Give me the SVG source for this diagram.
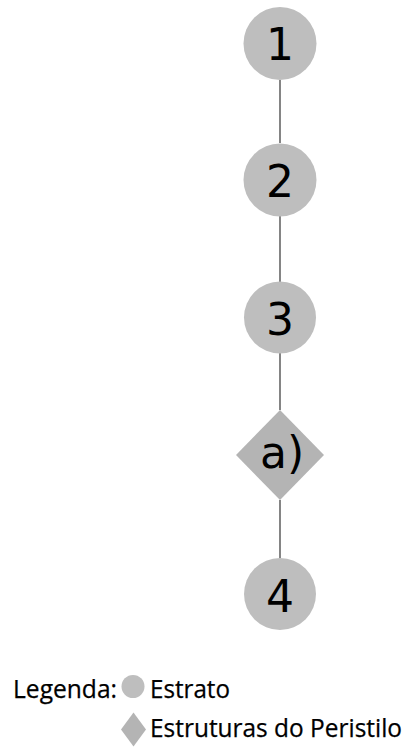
<svg xmlns="http://www.w3.org/2000/svg" width="408" height="749" viewBox="0 0 408 749">
<style>
.c{fill:#bebebe}
.d{fill:#b4b4b4}
.n{font-family:"DejaVu Sans",Verdana,sans-serif;font-size:44px;fill:#000;text-anchor:middle}
.l{font-family:"Open Sans",Lato,sans-serif;font-size:25px;fill:#000;stroke:#000;stroke-width:0.25}
.e{stroke:#333;stroke-width:1.2;fill:none}
</style>
<rect width="408" height="749" fill="#fff"/>
<g id="edges">
<line class="e" x1="280" y1="80" x2="280" y2="143"/>
<line class="e" x1="280" y1="216" x2="280" y2="282"/>
<line class="e" x1="280" y1="353" x2="280" y2="410"/>
<line class="e" x1="280" y1="500" x2="280" y2="558"/>
</g>
<g id="n1"><circle class="c" cx="280" cy="43.5" r="36.5"/><text class="n" x="280" y="60">1</text></g>
<g id="n2"><circle class="c" cx="280" cy="180" r="36.5"/><text class="n" x="280" y="197">2</text></g>
<g id="n3"><circle class="c" cx="280" cy="317.5" r="36"/><text class="n" x="280" y="335">3</text></g>
<g id="na"><polygon class="d" points="280,410 324,455 280,500 236,455"/><text class="n" x="282" y="468">a)</text></g>
<g id="n4"><circle class="c" cx="280" cy="594" r="36"/><text class="n" x="280" y="612">4</text></g>
<g id="legend">
<text class="l" x="13" y="698" textLength="104" lengthAdjust="spacingAndGlyphs">Legenda:</text>
<circle class="c" cx="133" cy="686.5" r="11.5"/>
<text class="l" x="150" y="698" textLength="80" lengthAdjust="spacingAndGlyphs">Estrato</text>
<polygon class="d" points="133.5,712.5 146,729.5 133.5,746.5 121,729.5"/>
<text class="l" x="150" y="737" textLength="252" lengthAdjust="spacingAndGlyphs">Estruturas do Peristilo</text>
</g>
</svg>
